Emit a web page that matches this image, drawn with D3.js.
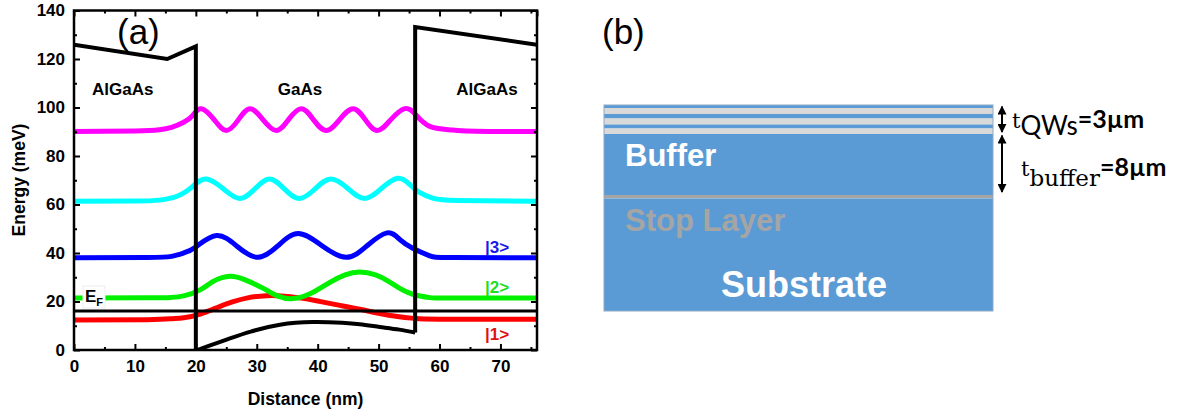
<!DOCTYPE html>
<html>
<head>
<meta charset="utf-8">
<script src="https://cdn.jsdelivr.net/npm/d3@7"></script>
<style>
  body { margin: 0; background: #fff; }
  svg { display: block; font-family: "Liberation Sans", Arial, sans-serif; }
</style>
</head>
<body>
<svg id="chart" width="1177" height="416"></svg>
<script>
// ---- panel (a) data: energy (meV) vs distance (nm) ----
var xTicks = [0, 10, 20, 30, 40, 50, 60, 70];
var yTicks = [0, 20, 40, 60, 80, 100, 120, 140];
var regionNames = ['AlGaAs', 'GaAs', 'AlGaAs'];

var barrierLeft = [[0, 125.9], [15.3, 120.0], [20, 125.2], [20, -3]];
var barrierRight = [[56, 7.2], [56, 133.2], [76, 125.9]];
var wellBottom = [[20, -0.3], [22, 1.6], [25.6, 4.8], [29, 7.6], [33.8, 10.4],
  [39.2, 11.5], [44, 11.2], [46.9, 10.6], [50.2, 9.5], [53.4, 8.4], [56, 7.2]];
var fermiLevel = 16.1;

var state1 = [[0, 12.4], [12, 12.5], [16, 12.9], [18, 13.3], [20.7, 14.8],
  [23.9, 17.9], [26, 19.8], [28.5, 21.5], [31.6, 22.4], [34, 22.3], [37, 21.5],
  [40, 20.2], [43, 18.7], [46.9, 16.8], [50, 15.1], [53.4, 13.7], [56, 13.0],
  [60, 12.7], [76, 12.7]];
var state2 = [[0, 21.4], [12, 21.5], [16, 21.7], [18, 22.3], [20.7, 24.8],
  [23, 28.5], [25.6, 30.4], [28, 29], [31, 25.5], [33.5, 22.2], [36, 21.2],
  [39, 23.5], [42, 27.9], [44.5, 31], [46.9, 32.2], [49.5, 31], [51.5, 28.5],
  [53.4, 25.5], [55.6, 23], [58.4, 21.6], [62, 21.4], [76, 21.4]];
var state3 = [[0, 38], [12, 38.1], [16, 38.6], [18, 40], [20, 42.5],
  [23.4, 47.2], [26.8, 42.7], [30.2, 38.2], [33.5, 43], [36.8, 48], [40.7, 43],
  [44.7, 38.2], [48.1, 43], [51.4, 48.3], [53.5, 45.5], [55.6, 42],
  [58.4, 38.8], [62, 38.1], [76, 38]];
var state4 = [[0, 61.3], [10, 61.4], [14, 61.8], [17, 63.5], [19.5, 67.5],
  [21.7, 70.5], [24.5, 66.5], [27.2, 62.5], [29.7, 66.5], [32.1, 70.5],
  [34.5, 66.5], [37, 62.5], [39.6, 66.5], [42.2, 70.5], [45, 66.5],
  [47.7, 62.5], [50.4, 66.5], [53.1, 70.8], [55, 68.5], [56.7, 65],
  [59, 62.5], [63, 61.6], [76, 61.3]];
var state5 = [[0, 90.1], [10, 90.3], [14, 90.8], [16, 91.8], [18, 93.9],
  [19.5, 96.8], [20.9, 99.5], [23, 95], [25, 90.5], [27, 95], [28.9, 99.5],
  [31, 95], [33.2, 90.5], [35.2, 95], [37.3, 99.5], [39.3, 95], [41.4, 90.5],
  [43.6, 95], [45.8, 99.5], [47.8, 95], [49.8, 90.5], [52, 95], [54.3, 99.5],
  [56, 97.3], [58.4, 92.2], [62.2, 90.7], [66, 90.2], [76, 90.1]];
var stateLabels = ['|1>', '|2>', '|3>'];

// ---- panel (b) data: layer stack, top to bottom (arbitrary units) ----
var layerNames = ['cap', 'qw', 'barrier', 'qw', 'barrier', 'qw', 'Buffer', 'Stop Layer', 'Substrate'];
var layerThickness = [3, 6, 4.5, 6, 4, 5.5, 61, 3.5, 112.5];

var stateColors = ['#ff0000', '#00f000', '#0000ff', '#00ffff', '#ff00ff'];
var labelColors = ['#e01010', '#22dd22', '#1a1ae6'];
var layerColors = {cap: '#5b9bd5', qw: '#d9d9d9', barrier: '#5b9bd5', Buffer: '#5b9bd5',
  'Stop Layer': '#a5a5a5', Substrate: '#5b9bd5'};

var svg = d3.select('#chart');
svg.append('rect').attr('width', 1177).attr('height', 416).attr('fill', '#fff');

var x = d3.scaleLinear().domain([0, 76]).range([74, 537]);
var y = d3.scaleLinear().domain([0, 140]).range([350, 10.5]);

svg.append('defs').append('clipPath').attr('id', 'plotClip')
    .append('rect').attr('x', 74).attr('y', 10.5).attr('width', 463).attr('height', 339.5);

var plot = svg.append('g').attr('clip-path', 'url(#plotClip)');

var smooth = d3.line().x(function(d) { return x(d[0]); })
    .y(function(d) { return y(d[1]); }).curve(d3.curveNatural);
var straight = d3.line().x(function(d) { return x(d[0]); })
    .y(function(d) { return y(d[1]); });

// wavefunctions
[state1, state2, state3, state4, state5].forEach(function(s, i) {
  plot.append('path').attr('d', smooth(s)).attr('fill', 'none')
      .attr('stroke', stateColors[i]).attr('stroke-width', 5);
});

// conduction band and Fermi level
plot.append('path').attr('d', straight(barrierLeft)).attr('fill', 'none')
    .attr('stroke', '#000').attr('stroke-width', 4).attr('stroke-linejoin', 'miter');
plot.append('path').attr('d', straight(barrierRight)).attr('fill', 'none')
    .attr('stroke', '#000').attr('stroke-width', 4);
plot.append('path').attr('d', smooth(wellBottom)).attr('fill', 'none')
    .attr('stroke', '#000').attr('stroke-width', 4);
plot.append('line').attr('x1', x(0)).attr('x2', x(76))
    .attr('y1', y(fermiLevel)).attr('y2', y(fermiLevel))
    .attr('stroke', '#000').attr('stroke-width', 3);

// axes, ticks pointing inward
function styleAxis(g) {
  g.select('.domain').remove();
  g.selectAll('.tick line').attr('stroke', '#000').attr('stroke-width', 2);
  g.selectAll('text').attr('font-size', 17).attr('font-weight', 'bold').attr('fill', '#000');
}
var minorX = d3.range(5, 76, 10);
var minorY = d3.range(10, 140, 20);

svg.append('g').attr('transform', 'translate(0,350)')
    .call(d3.axisBottom(x).tickValues(xTicks).tickSizeInner(-6).tickSizeOuter(0).tickPadding(10))
    .call(styleAxis);
svg.append('g').attr('transform', 'translate(0,350)')
    .call(d3.axisBottom(x).tickValues(minorX).tickSize(-3).tickFormat(''))
    .call(styleAxis);
svg.append('g').attr('transform', 'translate(0,10.5)')
    .call(d3.axisTop(x).tickValues(xTicks.concat([76])).tickSize(-6).tickFormat(''))
    .call(styleAxis);
svg.append('g').attr('transform', 'translate(0,10.5)')
    .call(d3.axisTop(x).tickValues(minorX).tickSize(-3).tickFormat(''))
    .call(styleAxis);
svg.append('g').attr('transform', 'translate(74,0)')
    .call(d3.axisLeft(y).tickValues(yTicks).tickSizeInner(-6).tickSizeOuter(0).tickPadding(9))
    .call(styleAxis);
svg.append('g').attr('transform', 'translate(74,0)')
    .call(d3.axisLeft(y).tickValues(minorY).tickSize(-3).tickFormat(''))
    .call(styleAxis);
svg.append('g').attr('transform', 'translate(537,0)')
    .call(d3.axisRight(y).tickValues(yTicks).tickSize(-6).tickFormat(''))
    .call(styleAxis);
svg.append('g').attr('transform', 'translate(537,0)')
    .call(d3.axisRight(y).tickValues(minorY).tickSize(-3).tickFormat(''))
    .call(styleAxis);

svg.append('rect').attr('x', 74).attr('y', 10.5).attr('width', 463).attr('height', 339.5)
    .attr('fill', 'none').attr('stroke', '#000').attr('stroke-width', 2.5);

// axis titles
svg.append('text').attr('x', 305.5).attr('y', 405).attr('text-anchor', 'middle')
    .attr('font-size', 17.5).attr('font-weight', 'bold').text('Distance (nm)');
svg.append('text').attr('transform', 'translate(25,180) rotate(-90)')
    .attr('text-anchor', 'middle').attr('font-size', 17.5).attr('font-weight', 'bold')
    .text('Energy (meV)');

// region and state labels
var regionX = [8, 37.1, 67.8];
regionNames.forEach(function(n, i) {
  svg.append('text').attr('x', x(regionX[i])).attr('y', 95).attr('text-anchor', 'middle')
      .attr('font-size', 17).attr('font-weight', 'bold').text(n);
});
var labelY = [340, 293, 253];
stateLabels.forEach(function(n, i) {
  svg.append('text').attr('x', 485).attr('y', labelY[i]).attr('font-size', 17)
      .attr('font-weight', 'bold').attr('fill', labelColors[i]).text(n);
});

// E_F label box
svg.append('rect').attr('x', 83).attr('y', 286).attr('width', 22).attr('height', 22)
    .attr('fill', '#fff').attr('stroke', '#eee');
var ef = svg.append('text').attr('x', 85).attr('y', 302).attr('font-size', 17)
    .attr('font-weight', 'bold');
ef.append('tspan').text('E');
ef.append('tspan').attr('dy', 4).attr('font-size', 11).text('F');

svg.append('text').attr('x', 117).attr('y', 44).attr('font-size', 35).text('(a)');

// ---- panel (b) ----
svg.append('text').attr('x', 602).attr('y', 44).attr('font-size', 35).text('(b)');

var depth = d3.scaleLinear().domain([0, d3.sum(layerThickness)]).range([105, 311]);
var tops = [0];
layerThickness.forEach(function(t, i) { tops.push(tops[i] + t); });

var stack = svg.append('g');
layerNames.forEach(function(n, i) {
  stack.append('rect').attr('x', 604).attr('width', 389)
      .attr('y', depth(tops[i])).attr('height', depth(tops[i + 1]) - depth(tops[i]))
      .attr('fill', layerColors[n]);
});
stack.append('rect').attr('x', 604).attr('y', 105).attr('width', 389).attr('height', 206)
    .attr('fill', 'none').attr('stroke', '#8ea9c8').attr('stroke-width', 1);

svg.append('text').attr('x', 625).attr('y', 166).attr('font-size', 31)
    .attr('font-weight', 'bold').attr('fill', '#fff').text('Buffer');
svg.append('text').attr('x', 625).attr('y', 231).attr('font-size', 31)
    .attr('font-weight', 'bold').attr('fill', '#a5a5a5').text('Stop Layer');
svg.append('text').attr('x', 804).attr('y', 297).attr('text-anchor', 'middle')
    .attr('font-size', 36).attr('font-weight', 'bold').attr('fill', '#fff').text('Substrate');

// thickness arrows
var defs = svg.select('defs');
defs.append('marker').attr('id', 'head').attr('viewBox', '0 0 10 10')
    .attr('refX', 9).attr('refY', 5).attr('markerWidth', 9).attr('markerHeight', 9)
    .attr('orient', 'auto-start-reverse').attr('markerUnits', 'userSpaceOnUse')
    .append('path').attr('d', 'M0,0L10,5L0,10z').attr('fill', '#000');

[[tops[0], tops[6]], [tops[6], tops[7]]].forEach(function(r, i) {
  svg.append('line').attr('x1', 1002).attr('x2', 1002)
      .attr('y1', depth(r[0]) + 1.5).attr('y2', depth(r[1]) - 2 - (i ? 1 : 0))
      .attr('stroke', '#000').attr('stroke-width', 2)
      .attr('marker-start', 'url(#head)').attr('marker-end', 'url(#head)');
});

var tq = svg.append('text').attr('x', 1012).attr('y', 128).attr('font-weight', 'bold')
    .attr('font-family', 'Lato, sans-serif').attr('font-size', 25);
tq.append('tspan').attr('font-family', '"DejaVu Serif", serif').attr('font-weight', 'normal')
    .attr('font-size', 21).text('t');
tq.append('tspan').attr('dy', 7).attr('font-size', 26).attr('font-weight', 'normal').text('QWs');
tq.append('tspan').attr('dy', -7).text('=3µm');

var tb = svg.append('text').attr('x', 1021).attr('y', 176).attr('font-weight', 'bold')
    .attr('font-family', 'Lato, sans-serif').attr('font-size', 25);
tb.append('tspan').attr('font-family', '"DejaVu Serif", serif').attr('font-weight', 'normal')
    .attr('font-size', 21).text('t');
tb.append('tspan').attr('dy', 10).attr('font-family', '"DejaVu Serif", serif')
    .attr('font-weight', 'normal').attr('font-size', 23).text('buffer');
tb.append('tspan').attr('dy', -10).text('=8µm');
</script>
</body>
</html>
